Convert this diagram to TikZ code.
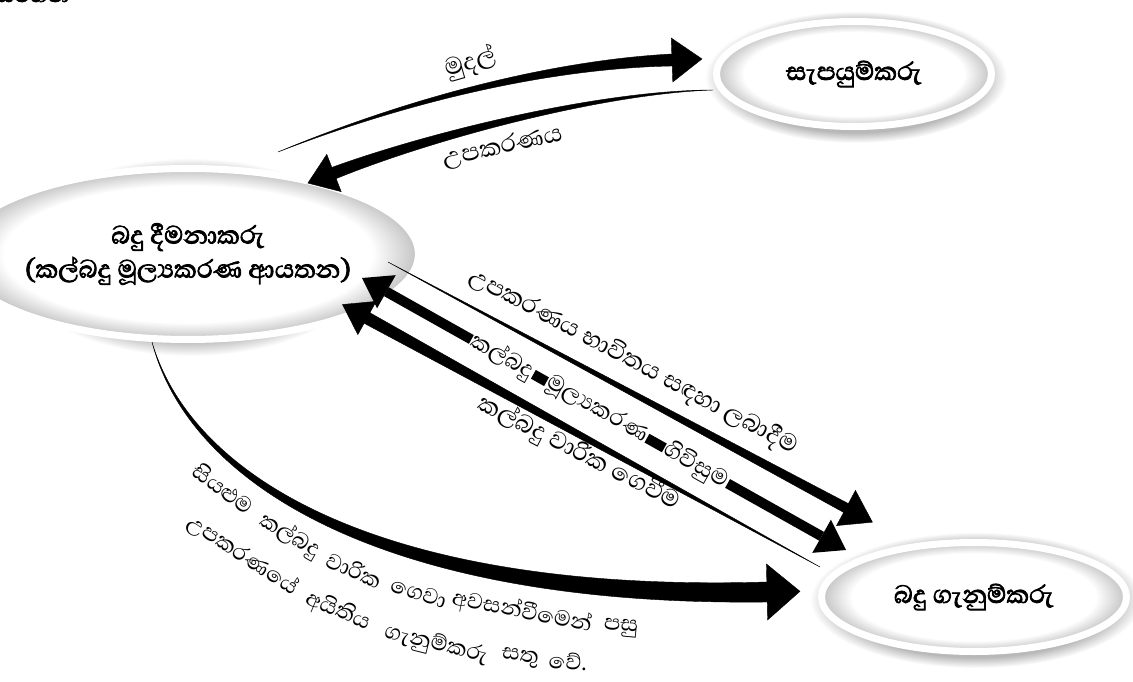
\documentclass[tikz,border=0pt]{standalone}
\usepackage{fontspec}
\setmainfont{Abhaya Libre}[Script=Sinhala, AutoFakeBold=2.5]
\usetikzlibrary{shapes.geometric,calc,arrows.meta}

\pgfdeclareradialshading{rim}{\pgfpoint{0bp}{0bp}}{color(0bp)=(white); color(20bp)=(white); color(25bp)=(black!24); color(50bp)=(black!24)}
\pgfdeclareradialshading{glow}{\pgfpoint{0bp}{0bp}}{color(0bp)=(black!28); color(21bp)=(black!28); color(25bp)=(white); color(50bp)=(white)}

\newcommand{\taperarrow}[7]{%
	\filldraw[line width=0.4pt] (#1) .. controls ($(#2)!#5/3!90:(#3)$) and ($(#3)!#5*2/3!90:(#4)$) .. ($(#4)!#5!-90:(#3)$)
		-- ($(#4)!#6!-90:(#3)$) -- ($(#4)!-#7!(#3)$) -- ($(#4)!#6!90:(#3)$) -- ($(#4)!#5!90:(#3)$)
		.. controls ($(#3)!#5*2/3!-90:(#4)$) and ($(#2)!#5/3!-90:(#3)$) .. (#1) -- cycle;}

\tikzset{
	lbl/.style={font=\fontsize{31}{36}\selectfont},
	arc/.style={font=\fontsize{28}{32}\selectfont},
	halo/.style={ellipse, inner sep=0pt, shading=glow},
	party/.style={ellipse, inner sep=0pt, draw=white, line width=7pt, shading=rim, align=center, font=\fontsize{32}{34}\selectfont\bfseries},
	agree/.style={line width=10pt, {Triangle[length=28pt,width=38pt,line width=0pt]}-{Triangle[length=28pt,width=38pt,line width=0pt]}},
	word/.style={font=\fontsize{29}{32}\selectfont, fill=white, inner sep=1pt, sloped}
}

\begin{document}
\begin{tikzpicture}[x=1pt,y=-1pt]
	\useasboundingbox (0,0) rectangle (1133,682);
	\node[anchor=base east, font=\fontsize{28}{30}\selectfont\bfseries] (cap) at (73,2) {රූප සටහන};

	\node[halo, minimum width=302pt, minimum height=132pt] at (856,77) {};
	\node[halo, minimum width=370pt, minimum height=198pt] at (190,257) {};
	\node[halo, minimum width=332pt, minimum height=136pt] at (976,600) {};
	\node[party, minimum width=275pt, minimum height=105pt] (sup) at (854,74) {සැපයුම්කරු};
	\node[party, minimum width=343pt, minimum height=171pt] (lend) at (188,254) {බදු දීමනාකරු\\(කල්බදු මූල්^^^^200dයකරණ ආයතන)};
	\node[party, minimum width=305pt, minimum height=109pt] (less) at (974,597) {බදු ගැනුම්කරු};

	\coordinate (mon-t) at (278,152);
	\coordinate (mon-a) at (420,95);
	\coordinate (mon-b) at (560,64);
	\coordinate (mon-h) at (672,60);
	\coordinate (eq-t) at (713,90);
	\coordinate (eq-a) at (600,92);
	\coordinate (eq-b) at (430,136);
	\coordinate (eq-h) at (334,173);
	\coordinate (use-t) at (388,262);
	\coordinate (use-h) at (846,508);
	\coordinate (use-a) at ($(use-t)!1/3!(use-h)$);
	\coordinate (use-b) at ($(use-t)!2/3!(use-h)$);
	\coordinate (agr-l) at (362,278);
	\coordinate (agr-r) at (846,550);
	\coordinate (pay-t) at (820,567);
	\coordinate (pay-h) at (367,318);
	\coordinate (pay-a) at ($(pay-t)!1/3!(pay-h)$);
	\coordinate (pay-b) at ($(pay-t)!2/3!(pay-h)$);
	\coordinate (own-t) at (152,342);
	\coordinate (own-a) at (190,480);
	\coordinate (own-b) at (380,600);
	\coordinate (own-h) at (767,592);

	\taperarrow{mon-t}{mon-a}{mon-b}{mon-h}{6pt}{22pt}{30pt}
	\taperarrow{eq-t}{eq-a}{eq-b}{eq-h}{6pt}{20pt}{28pt}
	\taperarrow{use-t}{use-a}{use-b}{use-h}{5pt}{20pt}{30pt}
	\taperarrow{pay-t}{pay-a}{pay-b}{pay-h}{6pt}{19pt}{28pt}
	\taperarrow{own-t}{own-a}{own-b}{own-h}{10pt}{28pt}{33pt}
	\draw[agree] (agr-l) -- (agr-r)
		node[word, pos=0.29] (agr1) {කල්බදු}
		node[word, pos=0.485] (agr2) {මූල්^^^^200dයකරණ}
		node[word, pos=0.69] (agr3) {ගිවිසුම};

	\node[lbl, rotate=16] (mon) at (471,63) {මුදල්};
	\node[lbl, rotate=12] (eq) at (503,147) {උපකරණය};
	\node[lbl, rotate=-28] (use) at (633,362) {උපකරණය භාවිතය සඳහා ලබාදීම};
	\node[lbl, rotate=-27] (pay) at (579,453) {කල්බදු වාරික ගෙවීම};

	\node[arc, rotate=-37] (own1) at (224,488) {සියළුම};
	\node[arc, rotate=-30] (own2) at (290,536) {කල්බදු};
	\node[arc, rotate=-24] (own3) at (355,570) {වාරික};
	\node[arc, rotate=-17] (own4) at (419,593) {ගෙවා};
	\node[arc, rotate=-11] (own5) at (522,612) {අවසන්වීමෙන්};
	\node[arc, rotate=-5] (own6) at (621,628) {පසු};
	\node[arc, rotate=-33] (own7) at (243,555) {උපකරණයේ};
	\node[arc, rotate=-23] (own8) at (338,611) {අයිතිය};
	\node[arc, rotate=-14] (own9) at (436,645) {ගැනුම්කරු};
	\node[arc, rotate=-7] (own10) at (520,658) {සතු};
	\node[arc, rotate=-3] (own11) at (568,661) {වේ.};
\end{tikzpicture}
\end{document}
